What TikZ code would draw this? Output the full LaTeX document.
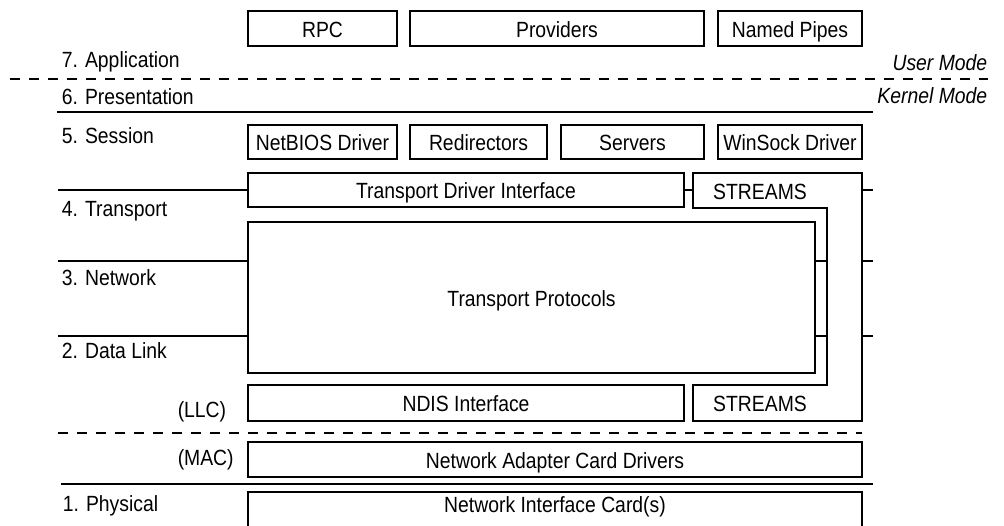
\documentclass[tikz,border=0pt]{standalone}
\usepackage{fontspec}
\setmainfont[FakeStretch=0.88]{Liberation Sans}
\begin{document}
\begin{tikzpicture}[x=1pt,y=-1pt,
  line width=1.5pt,
  every node/.style={font=\fontsize{22}{24}\selectfont},
  box/.style={draw, rectangle, inner sep=0pt, text height=17pt, text depth=0pt},
  lbl/.style={anchor=base west, inner sep=0pt},
  txt/.style={anchor=base, inner sep=0pt},
  mode/.style={anchor=base east, inner sep=0pt, font=\fontsize{22}{24}\selectfont\itshape},
  modeline/.style={dash pattern=on 10pt off 9pt}]

\useasboundingbox (0,0) rectangle (1004,525);
\fill[white] (0,0) rectangle (1004,525);
\clip (0,0) rectangle (1004,525);

% --- user mode components
\node[box, minimum width=149pt, minimum height=35pt] (rpc)       at (322.5,28.5) {RPC};
\node[box, minimum width=294pt, minimum height=35pt] (providers) at (557,28.5)   {Providers};
\node[box, minimum width=144pt, minimum height=35pt] (pipes)     at (790,28.5)   {Named Pipes};

% --- session layer drivers
\node[box, minimum width=149pt, minimum height=34pt] (netbios) at (322.5,142) {NetBIOS Driver};
\node[box, minimum width=137pt, minimum height=34pt] (redir)   at (478.5,142) {Redirectors};
\node[box, minimum width=143pt, minimum height=34pt] (servers) at (632.5,142) {Servers};
\node[box, minimum width=144pt, minimum height=34pt] (winsock) at (790,142)   {WinSock Driver};

% --- transport stack
\node[box, minimum width=436pt, minimum height=34pt]  (tdi)  at (466,190)   {Transport Driver Interface};
\node[box, minimum width=567pt, minimum height=151pt] (tp)   at (531.5,297.5) {Transport Protocols};
\node[box, minimum width=436pt, minimum height=36pt]  (ndis) at (466,403)   {NDIS Interface};
\node[box, minimum width=614pt, minimum height=35pt]  (nacd) at (555,459.5) {Network Adapter Card Drivers};
\node[draw, rectangle, inner sep=0pt, minimum width=614pt, minimum height=44pt, anchor=north] (nic) at (555,491) {};
\node[txt] (nictext) at (555,512) {Network Interface Card(s)};

% --- STREAMS wrapper around the transport protocols
\draw (693,173) -- (862,173) -- (862,421) -- (693,421) -- (693,385)
      -- (827,385) -- (827,208) -- (693,208) -- cycle;
\node[txt] (streamsup) at (760,199) {STREAMS};
\node[txt] (streamslo) at (760,411) {STREAMS};

% --- layer boundaries
\draw[modeline] (10,79) -- (988,79);
\draw (57,112) -- (873,112);
\draw (58,190) -- (tdi.west);
\draw (tdi.east) -- (693,190);
\draw (862,190) -- (873,190);
\draw (58,261) -- (tp.west |- 0,261);
\draw (tp.east |- 0,261) -- (827,261);
\draw (862,261) -- (873,261);
\draw (58,336) -- (tp.west |- 0,336);
\draw (tp.east |- 0,336) -- (827,336);
\draw (862,336) -- (873,336);
\draw[modeline] (58,433) -- (862,433);
\draw (61,484) -- (873,484);

% --- OSI layer names
\node[lbl] (l7)  at (61,67)  {7. Application};
\node[lbl] (l6)  at (61,104) {6. Presentation};
\node[lbl] (l5)  at (61,143) {5. Session};
\node[lbl] (l4)  at (61,216) {4. Transport};
\node[lbl] (l3)  at (61,285) {3. Network};
\node[lbl] (l2)  at (61,358) {2. Data Link};
\node[lbl] (llc) at (177,417) {(LLC)};
\node[lbl] (mac) at (177,465) {(MAC)};
\node[lbl] (l1)  at (62,511) {1. Physical};

% --- processor modes
\node[mode] (user)   at (988,70)  {User Mode};
\node[mode] (kernel) at (988,103) {Kernel Mode};
\end{tikzpicture}
\end{document}
